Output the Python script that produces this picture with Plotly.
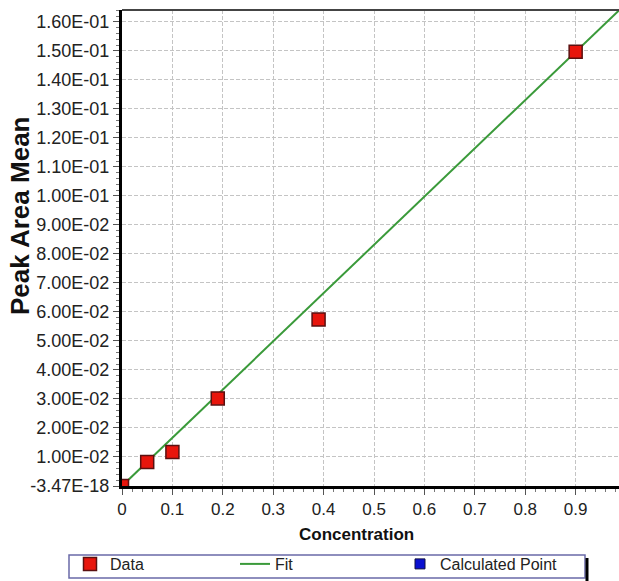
import plotly.graph_objects as go

conc = [0.0, 0.05, 0.1, 0.19, 0.39, 0.9]
peak_area = [0.0, 0.0083, 0.0117, 0.0302, 0.0574, 0.1497]
fit_x = [0.0, 1.0]
fit_y = [0.0, 0.1663]
y_ticks = [0.0, 0.01, 0.02, 0.03, 0.04, 0.05, 0.06, 0.07, 0.08, 0.09, 0.10,
           0.11, 0.12, 0.13, 0.14, 0.15, 0.16]
y_labels = ["-3.47E-18", "1.00E-02", "2.00E-02", "3.00E-02", "4.00E-02", "5.00E-02",
            "6.00E-02", "7.00E-02", "8.00E-02", "9.00E-02", "1.00E-01", "1.10E-01",
            "1.20E-01", "1.30E-01", "1.40E-01", "1.50E-01", "1.60E-01"]
x_ticks = [0, 0.1, 0.2, 0.3, 0.4, 0.5, 0.6, 0.7, 0.8, 0.9]
x_labels = ["0", "0.1", "0.2", "0.3", "0.4", "0.5", "0.6", "0.7", "0.8", "0.9"]

fig = go.Figure()
fig.add_trace(go.Scatter(x=fit_x, y=fit_y, mode="lines", name="Fit", legendrank=2,
                         line=dict(color="#3a9a3a", width=2)))
fig.add_trace(go.Scatter(x=conc, y=peak_area, mode="markers", name="Data", legendrank=1,
                         marker=dict(symbol="square", size=13, color="#e8150c",
                                     line=dict(color="#5a1010", width=1.5))))
fig.add_trace(go.Scatter(x=[None], y=[None], mode="markers", name="Calculated Point",
                         legendrank=3,
                         marker=dict(symbol="square", size=10, color="#0a10d0",
                                     line=dict(color="#101040", width=1))))

L, R, T, B = 122, 0, 10, 95
PW, PH = 619 - L - R, 581 - T - B


def px_x(p):
    return (p - L) / PW


def px_y(p):
    return (T + PH - p) / PH


fig.update_layout(
    width=619, height=581,
    margin=dict(l=L, r=R, t=T, b=B, autoexpand=False),
    paper_bgcolor="white", plot_bgcolor="white",
    font=dict(family="Liberation Sans, Arial, sans-serif", color="#222"),
    legend=dict(orientation="h", x=px_x(70), xanchor="left",
                y=px_y(547), yanchor="top",
                traceorder="normal", entrywidth=120, entrywidthmode="pixels",
                borderwidth=0, bgcolor="rgba(0,0,0,0)",
                font=dict(size=16, color="#222"), itemwidth=30),
    showlegend=True,
)

fig.update_xaxes(
    range=[0, 0.986], tickvals=x_ticks, ticktext=x_labels,
    showline=True, linecolor="black", linewidth=3, mirror=False,
    ticks="outside", ticklen=6, tickcolor="#555", tickwidth=1,
    minor=dict(ticks="outside", ticklen=3, tickcolor="#777", dtick=0.02, showgrid=False),
    showgrid=True, gridcolor="#c4c4c4", griddash="4px,2px", gridwidth=1,
    zeroline=False, tickfont=dict(size=17), automargin=False,
)
fig.update_yaxes(
    range=[0, 0.1641], tickvals=y_ticks, ticktext=y_labels,
    showline=True, linecolor="black", linewidth=3,
    ticks="outside", ticklen=6, tickcolor="#555", tickwidth=1,
    minor=dict(ticks="outside", ticklen=3, tickcolor="#777", dtick=0.002, showgrid=False),
    showgrid=True, gridcolor="#c4c4c4", griddash="4px,2px", gridwidth=1,
    zeroline=False, tickfont=dict(size=18), automargin=False,
)
# axis titles
fig.add_annotation(text="<b>Concentration</b>", xref="paper", yref="paper",
                   x=px_x(356), y=px_y(534), xanchor="center", yanchor="middle",
                   showarrow=False, font=dict(size=17, color="#111"))
fig.add_annotation(text="<b>Peak Area Mean</b>", xref="paper", yref="paper",
                   x=px_x(20), y=px_y(216), xanchor="center", yanchor="middle",
                   showarrow=False, textangle=-90,
                   font=dict(size=26, color="#111"))
# top border line
fig.add_shape(type="line", xref="paper", yref="paper", x0=0, x1=1, y0=1, y1=1,
              line=dict(color="#444", width=2))
# legend box and shadow
fig.add_shape(type="rect", xref="paper", yref="paper", x0=px_x(69), x1=px_x(585),
              y0=px_y(555), y1=px_y(578), line=dict(color="#6a6aa8", width=1.5),
              fillcolor="rgba(0,0,0,0)", layer="below")
fig.add_shape(type="line", xref="paper", yref="paper", x0=px_x(587), x1=px_x(587),
              y0=px_y(558), y1=px_y(581), line=dict(color="black", width=3))

fig.write_html("out.html", config={"displayModeBar": False},
               post_script="document.body.style.margin='0';document.body.style.overflow='hidden';")
